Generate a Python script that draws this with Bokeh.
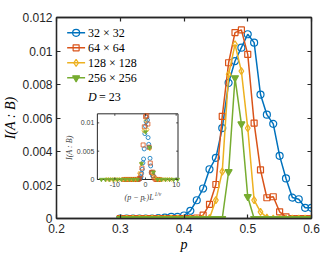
from math import pi
from bokeh.plotting import figure
from bokeh.models import (Range1d, FixedTicker, NumeralTickFormatter, LinearAxis, Label)
from bokeh.embed import file_html
from bokeh.resources import INLINE
from bokeh.core.properties import value

# ---------------- data ----------------
p_vals = [0.30, 0.31, 0.32, 0.33, 0.34, 0.35, 0.36, 0.37, 0.38, 0.39, 0.40,
          0.41, 0.42, 0.43, 0.44, 0.45, 0.46, 0.47, 0.48, 0.49, 0.50,
          0.51, 0.52, 0.53, 0.54, 0.55, 0.56, 0.57, 0.58, 0.59, 0.60]

I_32 = [0, 0, 0, 0, 0, 0, 0.00002, 0.00005, 0.0001, 0.0001, 0.00018,
        0.00046, 0.00109, 0.00179, 0.00294, 0.00362, 0.0054, 0.0081, 0.0094, 0.0102, 0.0110,
        0.0105, 0.0074, 0.0062, 0.00565, 0.00374, 0.00239, 0.00125, 0.00115, 0.00064, 0.00064]
I_64 = [0, 0, 0, 0, 0, 0, 0, 0, 0, 0, 0,
        0, 0.00003, 0.0002, 0.00084, 0.00203, 0.0061, 0.0093, 0.0111, 0.01126, 0.0098,
        0.0057, 0.0029, 0.00124, 0.0013, 0.0004, 0.0001, 0, 0, 0, 0]
I_128 = [0, 0, 0, 0, 0, 0, 0, 0, 0, 0, 0,
         0, 0, 0, 0.00002, 0.0011, 0.0028, 0.0086, 0.0104, 0.0088, 0.0054,
         0.0011, 0.0004, 0.00005, 0, 0, 0, 0, 0, 0, 0]
I_256 = [0, 0, 0, 0, 0, 0, 0, 0, 0, 0, 0,
         0, 0, 0, 0, 0, 0, 0.0028, 0.0084, 0.00565, 0.0013,
         0, 0, 0, 0, 0, 0, 0, 0, 0, 0]

sizes_L = [32, 64, 128, 256]
series_labels = ["32 × 32", "64 × 64", "128 × 128", "256 × 256"]
series_values = [I_32, I_64, I_128, I_256]
colors = ["#0072BD", "#D95319", "#EDB120", "#77AC30"]
markers = ["circle", "square", "diamond", "inverted_triangle"]
filled = [False, False, False, True]

x_ticks = [0.2, 0.3, 0.4, 0.5, 0.6]
y_ticks = [0, 0.002, 0.004, 0.006, 0.008, 0.01, 0.012]

# data collapse parameters for the inset
p_c = 0.48
inv_nu = 0.879
inset_x_ticks = [-10, 0, 10]
inset_y_ticks = [0, 0.005, 0.01]
inset_x_tick_labels = ["-10", "0", "10"]
inset_y_tick_labels = ["0", "0.005", "0.01"]

AX = "#262626"
SANS = "Liberation Sans"
SERIF = "Liberation Serif"

# ---------------- main figure ----------------
fig = figure(width=330, height=254, x_range=Range1d(0.2, 0.6), y_range=Range1d(0, 0.012),
             output_backend="svg", toolbar_location=None,
             min_border_left=55, min_border_right=19, min_border_top=17, min_border_bottom=36)
fig.xgrid.visible = False
fig.ygrid.visible = False
fig.outline_line_color = AX
fig.outline_line_width = 1.3
fig.background_fill_color = "white"
fig.border_fill_color = "white"

def style_axis(ax, ticks, fmt, labelled=True):
    ax.ticker = FixedTicker(ticks=ticks)
    ax.formatter = NumeralTickFormatter(format=fmt)
    ax.major_tick_in = 4
    ax.major_tick_out = 0
    ax.minor_tick_in = 0
    ax.minor_tick_out = 0
    ax.minor_tick_line_color = None
    ax.axis_line_color = AX
    ax.axis_line_width = 1.3
    ax.major_tick_line_color = AX
    ax.major_tick_line_width = 1.2
    if labelled:
        ax.major_label_text_font = SANS
        ax.major_label_text_font_size = "12px"
        ax.major_label_text_color = AX
    else:
        ax.major_label_text_color = None
        ax.major_label_text_font_size = "0px"
        ax.major_label_standoff = 0

style_axis(fig.xaxis[0], x_ticks, "0.0")
style_axis(fig.yaxis[0], y_ticks, "0.[000]")
fig.xaxis[0].major_label_standoff = 5
fig.yaxis[0].major_label_standoff = 4
fig.xaxis[0].axis_label = "p"
fig.yaxis[0].axis_label = "I(A : B)"
for ax in (fig.xaxis[0], fig.yaxis[0]):
    ax.axis_label_text_font = SERIF
    ax.axis_label_text_font_style = "italic"
    ax.axis_label_text_font_size = "14px"
    ax.axis_label_text_color = "#000000"
    ax.axis_label_standoff = 1

top_ax = LinearAxis()
right_ax = LinearAxis()
style_axis(top_ax, x_ticks, "0.0", labelled=False)
style_axis(right_ax, y_ticks, "0.[000]", labelled=False)
fig.add_layout(top_ax, "above")
fig.add_layout(right_ax, "right")

for vals, col, mk, fl in zip(series_values, colors, markers, filled):
    fig.line(p_vals, vals, line_color=col, line_width=1.5)
    fig.scatter(p_vals, vals, marker=mk, size=7 if mk != "square" else 6,
                line_color=col, line_width=1.2, fill_color=col if fl else None)

# ---- legend (top-left, no box), placed in axis units ----
px_x = 0.4 / 256.0      # data units per screen pixel (x)
px_y = 0.012 / 201.0    # data units per screen pixel (y)
leg_x0 = 0.2 + 10.7 * px_x
leg_y0 = 0.012 - 15.3 * px_y
row_h = 15 * px_y
for i, (lab, col, mk, fl) in enumerate(zip(series_labels, colors, markers, filled)):
    yy = leg_y0 - i * row_h
    fig.segment(x0=[leg_x0], y0=[yy], x1=[leg_x0 + 18 * px_x], y1=[yy], line_color=col, line_width=1.5)
    fig.scatter([leg_x0 + 9 * px_x], [yy], marker=mk, size=7 if mk != "square" else 6,
                line_color=col, line_width=1.2, fill_color=col if fl else None)
    fig.text(x=[leg_x0 + 21 * px_x], y=[yy], text=[lab], text_align="left", text_baseline="middle",
             text_font=value(SERIF), text_font_size="12px", text_color="#000000")

fig.add_layout(Label(x=0.2495, y=0.00728, text="D", text_font=SERIF, text_font_style="italic",
                     text_font_size="12px", text_baseline="middle", text_color="#000000"))
fig.add_layout(Label(x=0.2495, y=0.00728, x_offset=11, text="= 23", text_font=SERIF,
                     text_font_size="12px", text_baseline="middle", text_color="#000000"))

# ---------------- inset ----------------
ix0, ix1 = -15.7, 10.6
iy0, iy1 = 0.0, 0.0116
sub = fig.subplot(x_source=Range1d(ix0, ix1), y_source=Range1d(iy0, iy1),
                  x_target=Range1d(0.2641, 0.3906), y_target=Range1d(0.00233, 0.00625))

sub.quad(left=[ix0], right=[ix1], bottom=[iy0], top=[iy1], fill_color="white",
         line_color=AX, line_width=1.0)

for L, vals, col, mk, fl in zip(sizes_L, series_values, colors, markers, filled):
    xs, ys = [], []
    for pp, v in zip(p_vals, vals):
        xx = (pp - p_c) * L ** inv_nu
        if ix0 <= xx <= ix1:
            xs.append(xx)
            ys.append(v)
    sub.scatter(xs, ys, marker=mk, size=4, line_color=col, line_width=0.8,
                fill_color=col if fl else None)

tx = 0.00035
ty = 0.6
sub.segment(x0=inset_x_ticks, y0=[iy0] * 3, x1=inset_x_ticks, y1=[iy0 + tx] * 3, line_color=AX, line_width=0.8)
sub.segment(x0=inset_x_ticks, y0=[iy1] * 3, x1=inset_x_ticks, y1=[iy1 - tx] * 3, line_color=AX, line_width=0.8)
sub.segment(x0=[ix0] * 3, y0=inset_y_ticks, x1=[ix0 + ty] * 3, y1=inset_y_ticks, line_color=AX, line_width=0.8)
sub.segment(x0=[ix1] * 3, y0=inset_y_ticks, x1=[ix1 - ty] * 3, y1=inset_y_ticks, line_color=AX, line_width=0.8)

sub.text(x=[ix0] * 3, y=inset_y_ticks, text=inset_y_tick_labels, x_offset=-3,
         text_align="right", text_baseline="middle", text_font=value(SANS),
         text_font_size="7px", text_color="#404040")
sub.text(x=inset_x_ticks, y=[-0.0005] * 3, text=inset_x_tick_labels,
         text_align="center", text_baseline="top", text_font=value(SANS),
         text_font_size="7px", text_color="#404040")

sub.text(x=[-24.8], y=[0.0056], text=["I(A : B)"], angle=pi / 2, text_align="center",
         text_baseline="middle", text_font=value(SERIF), text_font_style="italic",
         text_font_size="8px", text_color="#404040")

xb = -0.00318
sub.text(x=[0], y=[xb], text=["(p − p"], x_offset=-21, text_align="left", text_baseline="alphabetic",
         text_font=value(SERIF), text_font_style="italic", text_font_size="8px", text_color="#404040")
sub.text(x=[0], y=[xb - 0.00035], text=["c"], x_offset=-2, text_align="left", text_baseline="alphabetic",
         text_font=value(SERIF), text_font_style="italic", text_font_size="5.5px", text_color="#404040")
sub.text(x=[0], y=[xb], text=[")L"], x_offset=1, text_align="left", text_baseline="alphabetic",
         text_font=value(SERIF), text_font_style="italic", text_font_size="8px", text_color="#404040")
sub.text(x=[0], y=[xb + 0.0006], text=["1/ν"], x_offset=9, text_align="left", text_baseline="alphabetic",
         text_font=value(SERIF), text_font_style="italic", text_font_size="5.5px", text_color="#404040")

open("out.html", "w").write(file_html(fig, INLINE))
